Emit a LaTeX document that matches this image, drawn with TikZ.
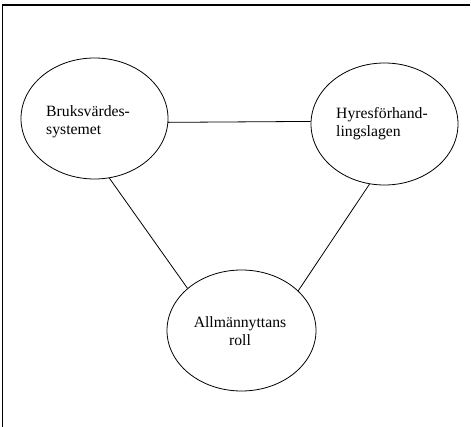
\documentclass[tikz,border=0pt]{standalone}
\usepackage{fontspec}
\setmainfont{Liberation Serif}
\usetikzlibrary{shapes.geometric}
\begin{document}
\begin{tikzpicture}[x=1pt,y=-1pt,
  bubble/.style={ellipse,draw,line width=0.8pt,inner sep=0pt},
  label/.style={font=\fontsize{15.7}{18}\selectfont,inner sep=0pt},
  link/.style={line width=0.8pt},
  frame/.style={line width=1.8pt}]
\useasboundingbox (0,0) rectangle (471,427);
\node[bubble,minimum width=147pt,minimum height=121pt] (e1) at (94.5,118.5) {};
\node[bubble,minimum width=147pt,minimum height=122pt] (e2) at (384.5,124) {};
\node[bubble,minimum width=149pt,minimum height=121pt] (e3) at (241.5,330.5) {};
\node[label,align=left,anchor=west] (t1) at (46,121.5) {Bruksvärdes-\\systemet};
\node[label,align=left,anchor=west] (t2) at (336,124) {Hyresförhand-\\lingslagen};
\node[label,align=center] (t3) at (240,331) {Allmännyttans\\roll};
\draw[link] (e1.-3) -- (e2.178);
\draw[link] (e1.-76) -- (e3.142);
\draw[link] (e2.-104) -- (e3.35);
\coordinate (c1) at (2.5,427);
\coordinate (c2) at (2.5,5);
\coordinate (c3) at (470,5);
\draw[frame] (c1) -- (c2) -- (c3);
\end{tikzpicture}
\end{document}
